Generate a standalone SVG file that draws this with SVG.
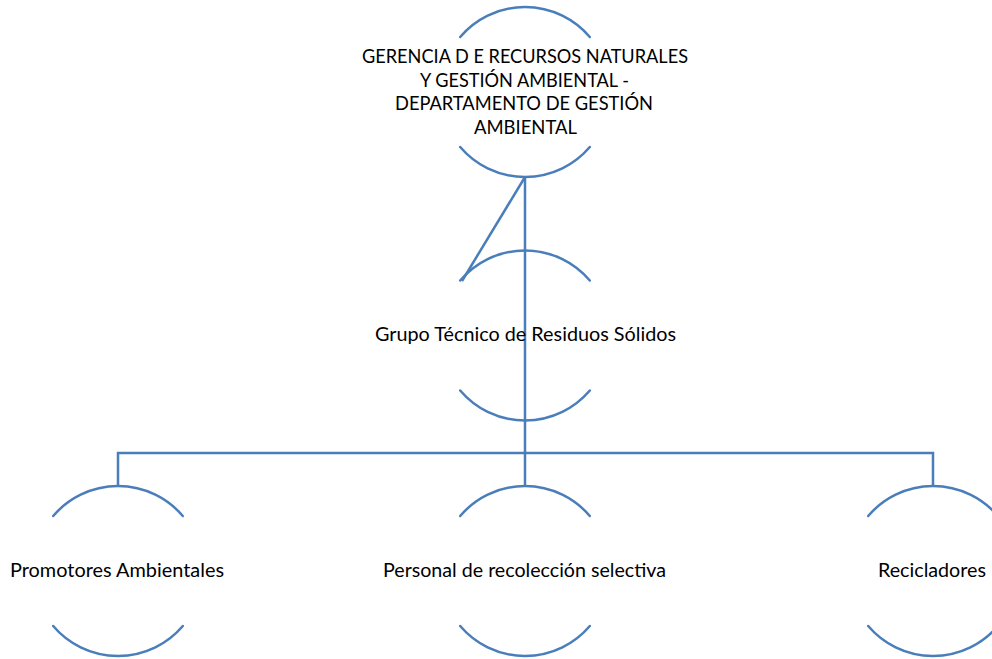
<svg xmlns="http://www.w3.org/2000/svg" xmlns:xlink="http://www.w3.org/1999/xlink" width="992" height="659" viewBox="0 0 992 659">
<style>
.arc{fill:none;stroke:#4a7ebb;stroke-width:2.5;stroke-linecap:round}
.con{fill:none;stroke:#4a7ebb;stroke-width:2.5}
.t{font-family:Lato,"Liberation Sans",sans-serif;font-size:19.5px;fill:#000;text-anchor:middle}
</style>
<defs>
<path id="ring" class="arc" d="M-64.8,-55 A85,85 0 0 1 64.8,-55 M64.8,55 A85,85 0 0 1 -64.8,55"/>
</defs>
<rect width="992" height="659" fill="#fff"/>
<g id="connectors">
<line class="con" x1="525" y1="177" x2="525" y2="453"/>
<line class="con" x1="525" y1="177" x2="462" y2="281"/>
<polyline class="con" points="118,486 118,453 933,453 933,486"/>
<line class="con" x1="525" y1="453" x2="525" y2="486"/>
</g>
<g id="node-gerencia">
<use xlink:href="#ring" href="#ring" transform="translate(525,92)"/>
<text class="t" x="525" y="63" textLength="326" lengthAdjust="spacingAndGlyphs">GERENCIA D E RECURSOS NATURALES</text>
<text class="t" x="524.5" y="87" textLength="209" lengthAdjust="spacingAndGlyphs">Y GESTIÓN AMBIENTAL -</text>
<text class="t" x="524" y="110" textLength="258" lengthAdjust="spacingAndGlyphs">DEPARTAMENTO DE GESTIÓN</text>
<text class="t" x="525.5" y="134" textLength="103" lengthAdjust="spacingAndGlyphs">AMBIENTAL</text>
</g>
<g id="node-grupo">
<use xlink:href="#ring" href="#ring" transform="translate(525,335.5)"/>
<text class="t" x="525.5" y="341" textLength="301" lengthAdjust="spacingAndGlyphs">Grupo Técnico de Residuos Sólidos</text>
</g>
<g id="node-promotores">
<use xlink:href="#ring" href="#ring" transform="translate(118,571)"/>
<text class="t" x="117" y="577" textLength="214" lengthAdjust="spacingAndGlyphs">Promotores Ambientales</text>
</g>
<g id="node-personal">
<use xlink:href="#ring" href="#ring" transform="translate(525,571)"/>
<text class="t" x="524.5" y="577" textLength="283" lengthAdjust="spacingAndGlyphs">Personal de recolección selectiva</text>
</g>
<g id="node-recicladores">
<use xlink:href="#ring" href="#ring" transform="translate(933,571)"/>
<text class="t" x="932" y="577" textLength="108" lengthAdjust="spacingAndGlyphs">Recicladores</text>
</g>
</svg>
